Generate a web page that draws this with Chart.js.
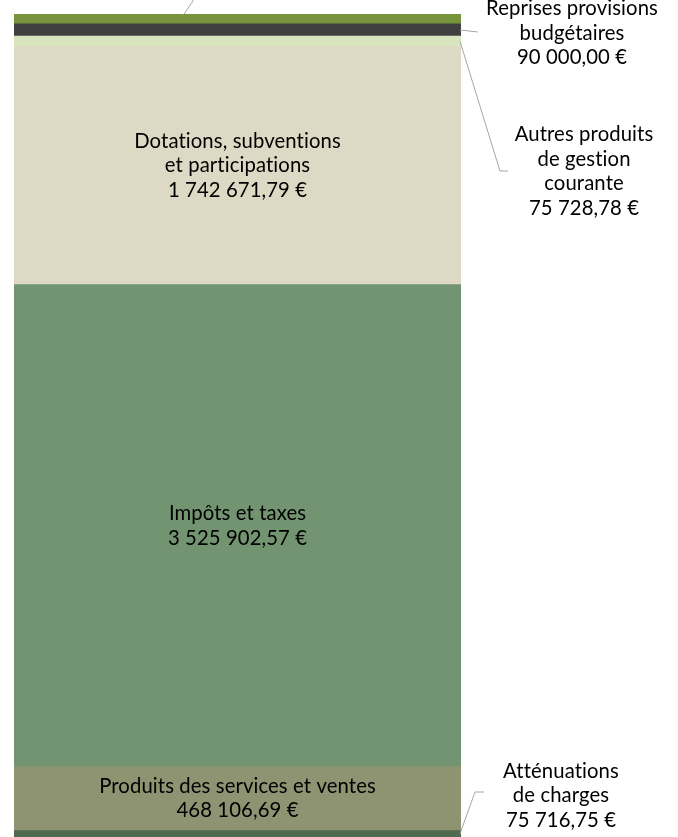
<!DOCTYPE html>
<html>
<head>
<meta charset="utf-8">
<script src="https://cdn.jsdelivr.net/npm/chart.js@4"></script>
<style>
html,body{margin:0;padding:0;background:#fff;overflow:hidden;}
#wrap{position:absolute;left:0;top:0;width:678px;height:860px;}
</style>
</head>
<body>
<div id="wrap"><canvas id="c" width="678" height="860"></canvas></div>
<script>
// Data (bottom to top of the stacked column)
const categories = [
  "Atténuations de charges",
  "Produits des services et ventes",
  "Impôts et taxes",
  "Dotations, subventions et participations",
  "Autres produits de gestion courante",
  "Reprises provisions budgétaires",
  "Autres recettes"
];
const values = [75716.75, 468106.69, 3525902.57, 1742671.79, 75728.78, 90000.00, 72000];
const labelLines = [
  ["Atténuations", "de charges", "75 716,75 €"],
  ["Produits des services et ventes", "468 106,69 €"],
  ["Impôts et taxes", "3 525 902,57 €"],
  ["Dotations, subventions", "et participations", "1 742 671,79 €"],
  ["Autres produits", "de gestion", "courante", "75 728,78 €"],
  ["Reprises provisions", "budgétaires", "90 000,00 €"],
  []
];
const colors = ["#4F6A4F", "#8E9372", "#739471", "#DDD9C4", "#D7E4BD", "#404040", "#77933C"];

// Label placement (styles/positions, not data)
const labelPlacement = [
  {mode: "out", x: 561, dy: -40, leader: [[0, -2], [475, 792], [484, 792]]},
  {mode: "in"},
  {mode: "in"},
  {mode: "in"},
  {mode: "out", x: 584, dy: 130, leader: [[0, 0], [500, 171], [508, 171]]},
  {mode: "out", x: 572, dy: 3, leader: [[0, 0], [478, 32]]},
  {mode: "top"}
];

const total = values.reduce((a, b) => a + b, 0);

const labelPlugin = {
  id: "segLabels",
  afterDatasetsDraw(chart) {
    const ctx = chart.ctx;
    ctx.save();
    ctx.font = "20.3px Lato";
    if ("letterSpacing" in ctx) ctx.letterSpacing = "0.1px";
    ctx.fillStyle = "#000";
    ctx.textAlign = "center";
    ctx.textBaseline = "middle";
    const lh = 24.6;
    chart.data.datasets.forEach((ds, i) => {
      const el = chart.getDatasetMeta(i).data[0];
      if (!el) return;
      const top = Math.min(el.y, el.base), bot = Math.max(el.y, el.base);
      const cy = (top + bot) / 2;
      const right = el.x + el.width / 2;
      const p = labelPlacement[i];
      const lines = labelLines[i];
      ctx.strokeStyle = "#A6A6A6";
      ctx.lineWidth = 1;
      if (p.mode === "in") {
        const y0 = cy - (lines.length - 1) * lh / 2;
        lines.forEach((t, k) => ctx.fillText(t, el.x, y0 + k * lh));
      } else if (p.mode === "out") {
        const ly = cy + p.dy;
        const y0 = ly - (lines.length - 1) * lh / 2;
        lines.forEach((t, k) => ctx.fillText(t, p.x, y0 + k * lh));
        ctx.beginPath();
        ctx.moveTo(right - 1, cy + p.leader[0][1]);
        for (let k = 1; k < p.leader.length; k++) ctx.lineTo(p.leader[k][0], p.leader[k][1]);
        ctx.stroke();
      } else if (p.mode === "top") {
        ctx.beginPath();
        ctx.moveTo(el.x - 54, top + 1);
        ctx.lineTo(el.x - 44, top - 14);
        ctx.stroke();
      }
    });
    ctx.restore();
  }
};

new Chart(document.getElementById("c"), {
  type: "bar",
  data: {
    labels: [""],
    datasets: categories.map((name, i) => ({
      label: name,
      data: [values[i]],
      backgroundColor: colors[i],
      borderWidth: 0,
      barPercentage: 1,
      categoryPercentage: 1
    }))
  },
  options: {
    responsive: false,
    animation: false,
    layout: {padding: {top: 14, left: 14, right: 217, bottom: 19}},
    plugins: {legend: {display: false}, tooltip: {enabled: false}},
    scales: {
      x: {stacked: true, display: false},
      y: {stacked: true, display: false, min: 0, max: total}
    }
  },
  plugins: [labelPlugin]
});
</script>
</body>
</html>
